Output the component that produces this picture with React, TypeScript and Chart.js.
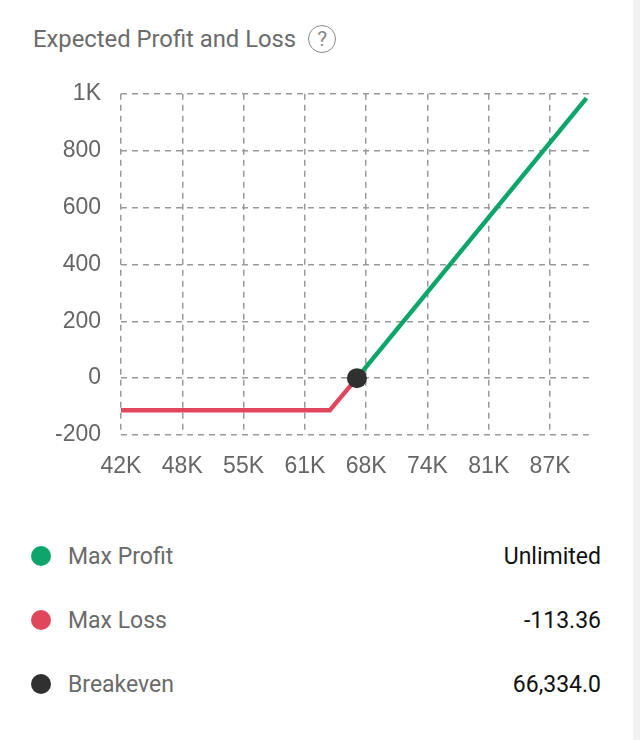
import React, { useEffect, useRef } from 'react';
import { Chart, registerables } from 'chart.js';

Chart.register(...registerables);

// ---- data ----
const xTickValues = [41700, 48100, 54500, 60900, 67300, 73700, 80100, 86500];
const xTickLabels = ['42K', '48K', '55K', '61K', '68K', '74K', '81K', '87K'];
const yTickValues = [-200, 0, 200, 400, 600, 800, 1000];
const yTickLabels = ['-200', '0', '200', '400', '600', '800', '1K'];
const xMin = 41700;
const xMax = 90880;

const lossX = [41700, 63500, 66334];
const lossY = [-113.36, -113.36, 0];
const profitX = [66334, 90300];
const profitY = [0, 985];
const breakevenX = [66334];
const breakevenY = [0];

const legendLabels = ['Max Profit', 'Max Loss', 'Breakeven'];
const legendValues = ['Unlimited', '-113.36', '66,334.0'];
const legendColors = ['#0da56b', '#e0465c', '#303030'];

const GREEN = '#0da56b';
const RED = '#e0465c';
const DARK = '#303030';
const AXIS_FONT = "'Liberation Sans', Arial, Helvetica, sans-serif";
const UI_FONT = "Roboto, 'Noto Sans', sans-serif";

const toPts = (xs: number[], ys: number[]) => xs.map((x, i) => ({ x, y: ys[i] }));

export default function App() {
  const ref = useRef<HTMLCanvasElement | null>(null);

  useEffect(() => {
    if (!ref.current) return;
    const chart = new Chart(ref.current, {
      type: 'scatter',
      data: {
        datasets: [
          {
            data: toPts(breakevenX, breakevenY),
            backgroundColor: DARK,
            borderWidth: 0,
            pointRadius: 10,
            showLine: false,
          },
          {
            data: toPts(profitX, profitY),
            borderColor: GREEN,
            backgroundColor: GREEN,
            borderWidth: 4.5,
            pointRadius: 0,
            showLine: true,
          },
          {
            data: toPts(lossX, lossY),
            borderColor: RED,
            backgroundColor: RED,
            borderWidth: 4.5,
            pointRadius: 0,
            showLine: true,
          },
        ],
      },
      options: {
        animation: false,
        responsive: false,
        devicePixelRatio: 1,
        layout: { padding: { left: 0, top: 30, right: 40, bottom: 0 } },
        plugins: { legend: { display: false }, tooltip: { enabled: false } },
        scales: {
          x: {
            type: 'linear',
            min: xMin,
            max: xMax,
            afterBuildTicks: (s: any) => {
              s.ticks = xTickValues.map((v) => ({ value: v }));
            },
            afterFit: (s: any) => {
              s.height = 65;
            },
            ticks: {
              autoSkip: false,
              maxRotation: 0,
              padding: 18,
              color: '#666',
              font: { family: AXIS_FONT, size: 23 },
              callback: (_v: any, i: number) => xTickLabels[i],
            },
            grid: { color: '#9a9a9a', lineWidth: 1.5, drawTicks: false },
            border: { display: false, dash: [6, 5] },
          },
          y: {
            type: 'linear',
            min: -200,
            max: 1000,
            afterBuildTicks: (s: any) => {
              s.ticks = yTickValues.map((v) => ({ value: v }));
            },
            afterFit: (s: any) => {
              s.width = 121;
            },
            ticks: {
              padding: 20,
              color: '#666',
              font: { family: AXIS_FONT, size: 23 },
              callback: (_v: any, i: number) => yTickLabels[i],
            },
            grid: { color: '#9a9a9a', lineWidth: 1.5, drawTicks: false },
            border: { display: false, dash: [6, 5] },
          },
        },
      },
    } as any);
    return () => chart.destroy();
  }, []);

  return (
    <div
      style={{
        position: 'absolute',
        left: 0,
        top: 0,
        width: 640,
        height: 740,
        background: '#fff',
        overflow: 'hidden',
      }}
    >
      <div style={{ position: 'absolute', left: 633, top: 0, width: 7, height: 740, background: '#f2f2f2' }} />
      <div
        style={{
          position: 'absolute',
          left: 33,
          top: 24,
          fontFamily: UI_FONT,
          fontSize: 23.8,
          color: '#6b6b6b',
          lineHeight: '30px',
          display: 'flex',
          alignItems: 'center',
          whiteSpace: 'nowrap',
        }}
      >
        <span>Expected Profit and Loss</span>
        <span
          style={{
            marginLeft: 12,
            width: 28,
            height: 28,
            borderRadius: '50%',
            border: '1.5px solid #8a8a8a',
            color: '#8a8a8a',
            fontSize: 21,
            lineHeight: '28px',
            textAlign: 'center',
            boxSizing: 'border-box',
            display: 'inline-flex',
            alignItems: 'center',
            justifyContent: 'center',
          }}
        >
          ?
        </span>
      </div>
      <canvas
        ref={ref}
        width={632}
        height={440}
        style={{ position: 'absolute', left: 0, top: 60, width: 632, height: 440 }}
      />
      {legendLabels.map((lab, i) => (
        <div
          key={lab}
          style={{
            position: 'absolute',
            left: 31,
            top: 556 + i * 64 - 15,
            width: 570,
            height: 30,
            display: 'flex',
            alignItems: 'center',
            fontFamily: UI_FONT,
            fontSize: 23,
          }}
        >
          <span
            style={{
              width: 20,
              height: 20,
              borderRadius: '50%',
              background: legendColors[i],
              flex: '0 0 auto',
            }}
          />
          <span style={{ marginLeft: 17, color: '#6b6b6b' }}>{lab}</span>
          <span style={{ marginLeft: 'auto', color: '#111' }}>{legendValues[i]}</span>
        </div>
      ))}
    </div>
  );
}
